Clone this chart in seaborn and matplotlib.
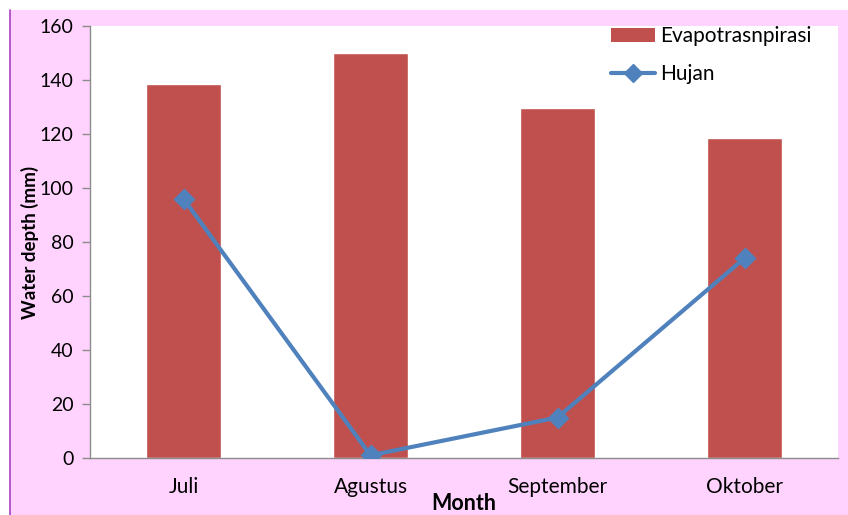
import matplotlib
matplotlib.use("Agg")
import matplotlib.pyplot as plt
import seaborn as sns
import pandas as pd
from matplotlib.patches import Rectangle, Patch
from matplotlib.lines import Line2D

months = ["Juli", "Agustus", "September", "Oktober"]
evapotranspirasi = [138.5, 150, 129.5, 118.4]
hujan = [96, 1, 15, 74]

bar_color = "#C0504D"
line_color = "#4F81BD"
pink = "#FFD3FE"

sns.set_style("white")
plt.rcParams["font.family"] = ["Lato", "DejaVu Sans"]
plt.rcParams["text.color"] = "black"
plt.rcParams["xtick.color"] = "black"
plt.rcParams["ytick.color"] = "black"
plt.rcParams["axes.labelcolor"] = "black"

fig = plt.figure(figsize=(8.48, 5.15), dpi=100)
fig.patch.set_facecolor("white")
W, H = 848, 515
fig.add_artist(Rectangle((10 / W, 0), 1 - 10 / W, 1 - 10 / H, transform=fig.transFigure,
                         facecolor=pink, edgecolor="none", zorder=0))
fig.add_artist(Line2D([10 / W, 10 / W], [0, 1 - 10 / H], transform=fig.transFigure,
                      color="#A93FC4", lw=1.2, zorder=1))

ax = fig.add_axes([90 / W, 1 - 458 / H, (838 - 90) / W, (458 - 26) / H])
ax.set_facecolor("white")

df = pd.DataFrame({"Month": months, "Evapotrasnpirasi": evapotranspirasi, "Hujan": hujan})
sns.barplot(data=df, x="Month", y="Evapotrasnpirasi", color=bar_color, saturation=1,
            width=0.4, ax=ax, zorder=2)
sns.pointplot(data=df, x="Month", y="Hujan", color=line_color, markers="D",
              linestyles="-", ax=ax, zorder=3)
for l in ax.lines:
    l.set_linewidth(3)
    l.set_markersize(9)

ax.set_xlim(-0.5, 3.5)
ax.set_ylim(0, 160)
ax.set_yticks(range(0, 161, 20))
ax.set_xticks([-0.5, 0.5, 1.5, 2.5, 3.5], minor=False)
ax.set_xticklabels([])
ax.set_xticks(range(4), minor=True)
ax.set_xticklabels(months, minor=True)
ax.tick_params(axis="x", which="minor", length=0, pad=14, labelsize=15)
ax.tick_params(axis="x", which="major", length=6, color="#8C8C8C", width=1, direction="out")
ax.tick_params(axis="y", length=6, color="#8C8C8C", width=1, direction="out", labelsize=14, pad=6,
               left=True, labelcolor="black")
for s in ["top", "right"]:
    ax.spines[s].set_visible(False)
for s in ["left", "bottom"]:
    ax.spines[s].set_color("#8C8C8C")
    ax.spines[s].set_linewidth(1)

ax.set_xlabel("Month", fontsize=15.5, fontweight="bold", labelpad=-3.5)
ax.set_ylabel("Water depth (mm)", fontsize=13.5, fontweight="bold", labelpad=0)

handles = [Patch(facecolor=bar_color, edgecolor="none"),
           Line2D([0], [0], color=line_color, lw=3, marker="D", markersize=9)]
ax.legend(handles, ["Evapotrasnpirasi", "Hujan"], loc="upper left",
          bbox_to_anchor=((603 - 90) / 748, (458 - 18) / 432),
          frameon=False, fontsize=15, labelspacing=0.85, handlelength=2.1,
          handletextpad=0.25, borderaxespad=0)

fig.savefig("out.png", dpi=100, facecolor=fig.get_facecolor())
